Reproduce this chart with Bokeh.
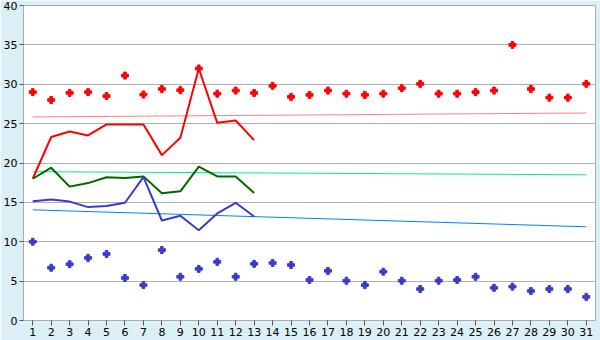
from bokeh.plotting import figure
from bokeh.models import Range1d, FixedTicker
from bokeh.embed import file_html
from bokeh.resources import INLINE

days = list(range(1, 32))
line_days = list(range(1, 14))

red_points = [29.0, 28.0, 28.9, 29.0, 28.5, 31.1, 28.7, 29.4, 29.25, 32.0,
              28.8, 29.2, 28.9, 29.8, 28.4, 28.65, 29.2, 28.8, 28.65, 28.8,
              29.5, 30.05, 28.8, 28.8, 29.0, 29.2, 35.0, 29.4, 28.3, 28.3, 30.05]
blue_points = [10.0, 6.7, 7.15, 7.95, 8.45, 5.4, 4.5, 8.95, 5.55, 6.55,
               7.45, 5.55, 7.2, 7.3, 7.05, 5.15, 6.3, 5.05, 4.5, 6.2,
               5.05, 4.0, 5.05, 5.15, 5.55, 4.15, 4.3, 3.75, 4.0, 4.0, 3.0]

red_line = [18.0, 23.3, 24.0, 23.5, 24.9, 24.9, 24.9, 21.0, 23.2, 32.0, 25.1, 25.4, 22.9]
green_line = [18.0, 19.4, 17.0, 17.45, 18.2, 18.1, 18.3, 16.15, 16.4, 19.55, 18.3, 18.3, 16.2]
blue_line = [15.15, 15.35, 15.1, 14.4, 14.55, 14.95, 18.2, 12.7, 13.3, 11.45, 13.6, 14.95, 13.2]

trend_days = [1, 31]
red_trend = [25.85, 26.35]
green_trend = [18.9, 18.5]
blue_trend = [14.05, 11.9]

y_ticks = [0, 5, 10, 15, 20, 25, 30, 35, 40]

p = figure(width=600, height=340, output_backend="svg", toolbar_location=None,
           x_range=Range1d(0.5, 31.5), y_range=Range1d(0, 40),
           min_border_left=20, min_border_right=5, min_border_top=5, min_border_bottom=20)

p.border_fill_color = "#daeff6"
p.background_fill_color = "white"
p.outline_line_color = "#aaaaaa"
p.outline_line_width = 1

p.xgrid.grid_line_color = None
p.ygrid.grid_line_color = "#b0b0b0"
p.ygrid.ticker = FixedTicker(ticks=y_ticks)

for ax in (p.xaxis[0], p.yaxis[0]):
    ax.axis_line_color = "#aaaaaa"
    ax.major_tick_line_color = "#555555"
    ax.minor_tick_line_color = None
    ax.major_tick_in = 0
    ax.major_label_text_font = "DejaVu Sans"
    ax.major_label_text_font_size = "11px"
    ax.major_label_text_color = "black"
    ax.major_label_standoff = 2

p.xaxis.ticker = FixedTicker(ticks=days)
p.xaxis.major_tick_out = 5
p.yaxis.ticker = FixedTicker(ticks=y_ticks)
p.yaxis.major_tick_out = 4

p.line(trend_days, red_trend, line_color="#ff8080", line_width=1)
p.line(trend_days, green_trend, line_color="#00ee88", line_width=1)
p.line(trend_days, blue_trend, line_color="#0080ff", line_width=1)

p.line(line_days, red_line, line_color="#ff0000", line_width=2)
p.line(line_days, green_line, line_color="#006600", line_width=2)
p.line(line_days, blue_line, line_color="#3a3acc", line_width=2)

p.scatter(days, red_points, marker="plus", size=7, fill_color="#ff0000", line_color="#ff0000")
p.scatter(days, blue_points, marker="plus", size=7, fill_color="#3a3acc", line_color="#3a3acc")

open("out.html", "w").write(file_html(p, INLINE))
